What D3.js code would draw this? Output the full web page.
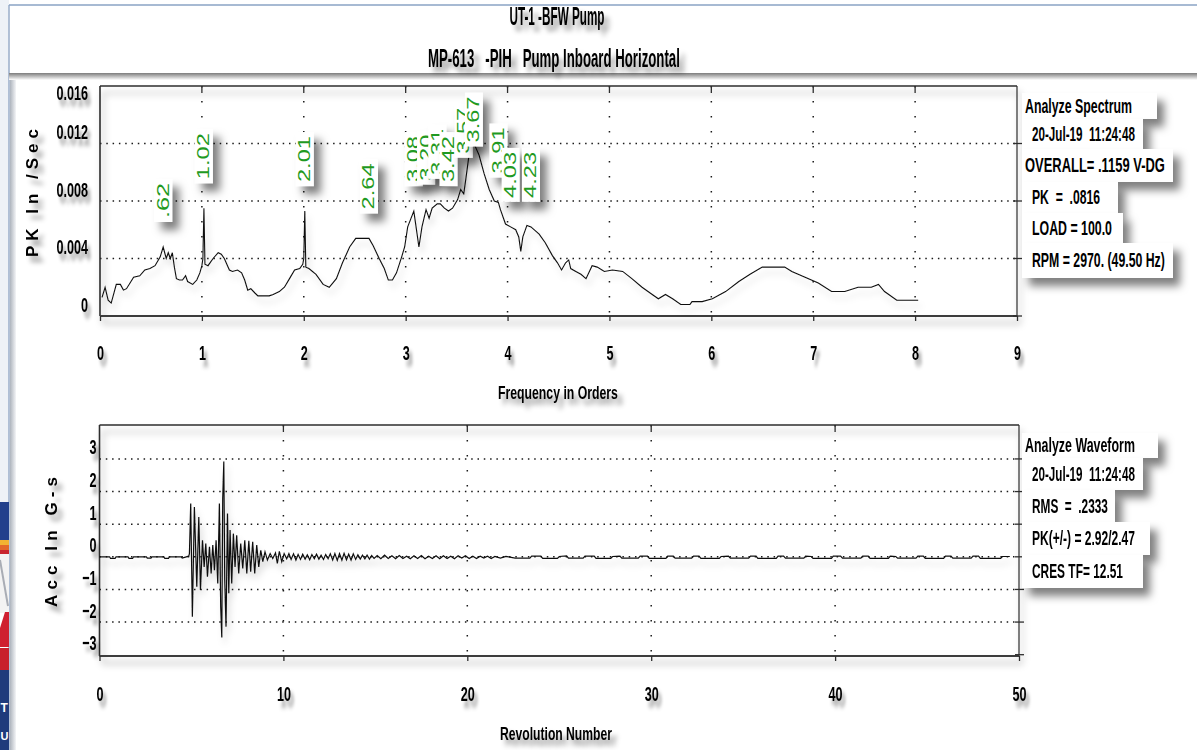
<!DOCTYPE html>
<html>
<head>
<meta charset="utf-8">
<script src="https://cdn.jsdelivr.net/npm/d3@7"></script>
<style>
  body { margin: 0; background: #fff; }
  svg { display: block; }
</style>
</head>
<body>
<svg id="chart" width="1197" height="750"></svg>
<script>
// ---------------- data ----------------
const titleLines = ["UT-1 -BFW Pump", "MP-613   -PIH   Pump Inboard Horizontal"];

// Spectrum: frequency in orders vs PK in/sec
const spectrumOrders = [
  0.02, 0.05, 0.08, 0.11, 0.16, 0.20, 0.23, 0.26, 0.33, 0.39, 0.44, 0.49, 0.54, 0.59, 0.62, 0.65,
  0.67, 0.69, 0.71, 0.73, 0.75, 0.78, 0.81, 0.84, 0.86, 0.91, 0.95, 0.98, 1.00, 1.01, 1.02, 1.03,
  1.06, 1.11, 1.16, 1.19, 1.22, 1.27, 1.30, 1.35, 1.39, 1.42, 1.45, 1.48, 1.52, 1.55, 1.66, 1.70,
  1.76, 1.81, 1.86, 1.91, 1.96, 1.99, 2.00, 2.01, 2.02, 2.05, 2.12, 2.19, 2.25, 2.32, 2.38, 2.45,
  2.51, 2.57, 2.64, 2.68, 2.74, 2.79, 2.83, 2.87, 2.91, 2.96, 2.99, 3.02, 3.08, 3.10, 3.13, 3.16,
  3.20, 3.23, 3.26, 3.31, 3.34, 3.38, 3.42, 3.46, 3.51, 3.54, 3.57, 3.59, 3.62, 3.64, 3.67, 3.72,
  3.77, 3.82, 3.87, 3.91, 3.93, 3.98, 4.03, 4.08, 4.11, 4.13, 4.15, 4.19, 4.23, 4.31, 4.37, 4.44,
  4.49, 4.53, 4.57, 4.60, 4.62, 4.67, 4.72, 4.77, 4.83, 4.88, 4.95, 5.03, 5.13, 5.22, 5.32, 5.42,
  5.48, 5.55, 5.62, 5.70, 5.79, 5.81, 5.91, 6.01, 6.14, 6.27, 6.38, 6.50, 6.72, 6.79, 6.92, 7.05,
  7.18, 7.31, 7.44, 7.57, 7.64, 7.70, 7.82, 8.03
];
const spectrumAmps = [
  0.0013, 0.0020, 0.0011, 0.0009, 0.0022, 0.0022, 0.0018, 0.0019, 0.0027, 0.0028, 0.0032, 0.0033, 0.0035, 0.0041, 0.0048, 0.0040,
  0.0044, 0.0040, 0.0044, 0.0034, 0.0026, 0.0025, 0.0025, 0.0028, 0.0024, 0.0022, 0.0025, 0.0030, 0.0035, 0.0040, 0.0075, 0.0036,
  0.0035, 0.0040, 0.0044, 0.0043, 0.0040, 0.0032, 0.0031, 0.0032, 0.0030, 0.0025, 0.0018, 0.0019, 0.0016, 0.0014, 0.0014, 0.0015,
  0.0017, 0.0020, 0.0026, 0.0032, 0.0033, 0.0036, 0.0040, 0.0073, 0.0034, 0.0033, 0.0029, 0.0022, 0.0020, 0.0026, 0.0037, 0.0048,
  0.0054, 0.0054, 0.0054, 0.0049, 0.0040, 0.0033, 0.0025, 0.0025, 0.0030, 0.0041, 0.0048, 0.0062, 0.0073, 0.0063, 0.0048, 0.0062,
  0.0074, 0.0068, 0.0075, 0.0078, 0.0078, 0.0075, 0.0073, 0.0075, 0.0081, 0.0088, 0.0085, 0.0095, 0.0111, 0.0119, 0.0120, 0.0112,
  0.0099, 0.0088, 0.0080, 0.0079, 0.0074, 0.0064, 0.0062, 0.0060, 0.0055, 0.0045, 0.0055, 0.0063, 0.0062, 0.0057, 0.0051, 0.0042,
  0.0037, 0.0032, 0.0037, 0.0039, 0.0033, 0.0031, 0.0029, 0.0026, 0.0035, 0.0034, 0.0031, 0.0032, 0.0031, 0.0026, 0.0020, 0.0015,
  0.0012, 0.0015, 0.0012, 0.0008, 0.0008, 0.0010, 0.0010, 0.0012, 0.0017, 0.0024, 0.0029, 0.0034, 0.0034, 0.0031, 0.0027, 0.0023,
  0.0017, 0.0017, 0.0020, 0.0020, 0.0022, 0.0017, 0.0011, 0.0011
];
const peakOrders = [0.62, 1.02, 2.01, 2.64, 3.08, 3.20, 3.31, 3.42, 3.57, 3.67, 3.91, 4.03, 4.23];
const spectrumTicksX = [0, 1, 2, 3, 4, 5, 6, 7, 8, 9];
const spectrumTicksY = [0, 0.004, 0.008, 0.012, 0.016];
const spectrumInfo = [
  "Analyze Spectrum", "20-Jul-19  11:24:48", "OVERALL= .1159 V-DG",
  "PK  =  .0816", "LOAD = 100.0", "RPM = 2970. (49.50 Hz)"
];

// Waveform: revolution number vs acceleration in G-s
const waveRevs = [
  0, 0.55, 0.60, 0.85, 0.90, 1.55, 1.60, 1.80, 1.85, 2.55, 2.60, 2.80, 2.85, 3.50, 3.55, 3.75, 3.80, 4.45, 4.50, 4.85,
  4.89, 4.96, 5.05, 5.16, 5.29, 5.40, 5.49, 5.60, 5.69, 5.78, 5.87, 5.98, 6.07, 6.16, 6.25, 6.34, 6.43, 6.52, 6.59, 6.65,
  6.70, 6.76, 6.81, 6.88, 6.96, 7.03, 7.10, 7.19, 7.28, 7.37, 7.46, 7.57, 7.68, 7.79, 7.90, 8.01, 8.12, 8.22, 8.33, 8.44,
  8.55, 8.66, 8.77, 8.88, 9.00, 9.13, 9.28, 9.42, 9.57, 9.67, 9.78, 9.91, 10.04, 10.18,
  10.30, 10.42, 10.55, 10.68, 10.80, 10.93, 11.05, 11.18, 11.30, 11.43, 11.55, 11.68, 11.80, 11.93, 12.05, 12.18,
  12.30, 12.43, 12.55, 12.68, 12.80, 12.93, 13.05, 13.18, 13.30, 13.43, 13.55, 13.68, 13.80, 13.93, 14.05, 14.18,
  14.30, 14.43, 14.55, 14.68, 14.80, 14.93, 15.10, 15.30, 15.50, 15.70, 15.90, 16.10, 16.30, 16.50, 16.70, 16.90,
  17.10, 17.30, 17.50, 17.70, 17.90, 18.10, 18.30, 18.50, 18.70, 18.90, 19.10, 19.30, 19.50, 19.70, 19.90, 20.10,
  20.30, 20.50, 20.70, 20.90, 21.10, 21.30, 21.50, 21.80, 22.10,
  22.60, 23.40, 23.50, 24.00, 24.10, 24.90, 25.00, 25.40, 25.50, 26.30, 26.40, 26.90, 27.00, 27.80, 27.90, 28.30,
  28.40, 29.30, 29.40, 29.80, 29.90, 30.80, 30.90, 31.20, 31.30, 32.20, 32.30, 32.60, 32.70, 33.70, 33.80, 34.20,
  34.30, 35.30, 35.40, 35.70, 35.80, 36.80, 36.90, 37.20, 37.30, 38.30, 38.40, 38.70, 38.80, 39.80, 39.90, 40.30,
  40.40, 41.40, 41.50, 41.80, 41.90, 42.90, 43.00, 43.30, 43.40, 44.40, 44.50, 44.80, 44.90, 45.90, 46.00, 46.30,
  46.40, 47.40, 47.50, 47.80, 47.90, 49.00, 49.10, 49.50
];
const waveAccel = [
  0, 0, -0.05, -0.05, 0, 0, -0.05, -0.05, 0, 0, -0.04, -0.04, 0, 0, -0.05, -0.05, 0, 0, -0.04, 0.02,
  0.10, 1.63, -1.84, 1.53, -0.92, 1.22, -1.02, 0.51, -0.31, 0.41, -0.61, 0.31, -0.51, 0.36, -0.41, 0.51, -0.82, 1.63, -1.53, -2.47,
  1.79, 2.92, -0.71, -2.14, 1.33, -1.12, 0.82, -0.82, 0.71, -0.31, 0.66, -0.51, 0.41, -0.36, 0.51, -0.51, 0.49, -0.46, 0.46, -0.51,
  0.36, -0.31, 0.20, -0.15, 0.15, -0.10, 0.10, -0.05, 0.12, -0.20, 0.17, -0.15, 0.10, -0.06,
  0.10, -0.08, 0.09, -0.10, 0.07, -0.08, 0.08, -0.07, 0.06, -0.09, 0.07, -0.06, 0.08, -0.07, 0.05, -0.08,
  0.07, -0.06, 0.09, -0.10, 0.10, -0.11, 0.10, -0.10, 0.11, -0.09, 0.08, -0.10, 0.09, -0.08, 0.06, -0.07,
  0.05, -0.06, 0.05, -0.07, 0.04, -0.05, 0.04, -0.06, 0.05, -0.05, 0.03, -0.06, 0.04, -0.05, 0.02, -0.06,
  0.03, -0.05, 0.04, -0.06, 0.02, -0.05, 0.03, -0.06, 0.03, -0.05, 0.02, -0.06, 0.03, -0.04, 0.03, -0.05,
  0.02, -0.05, 0.02, -0.04, 0.02, -0.05, 0.01, -0.04, 0.01,
  -0.04, -0.04, 0.02, 0.02, -0.05, -0.05, 0.01, 0.03, -0.04, -0.04, 0.02, 0.02, -0.05, -0.05, 0.01, 0.02,
  -0.04, -0.04, 0.02, 0.02, -0.05, -0.05, 0.02, 0.02, -0.04, -0.04, 0.02, 0.02, -0.05, -0.05, 0.01, 0.02,
  -0.04, -0.04, 0.02, 0.02, -0.05, -0.05, 0.02, 0.02, -0.04, -0.04, 0.02, 0.01, -0.05, -0.05, 0.02, 0.02,
  -0.04, -0.04, 0.02, 0.02, -0.05, -0.05, 0.02, 0.01, -0.04, -0.04, 0.02, 0.02, -0.05, -0.05, 0.02, 0.02,
  -0.04, -0.04, 0.02, 0.02, -0.05, -0.05, 0.01, 0.01
];
const waveTicksX = [0, 10, 20, 30, 40, 50];
const waveTicksY = [-3, -2, -1, 0, 1, 2, 3];
const waveformInfo = [
  "Analyze Waveform", "20-Jul-19  11:24:48", "RMS  =  .2333",
  "PK(+/-) = 2.92/2.47", "CRES TF= 12.51"
];

// ---------------- drawing ----------------
const W = 1197, H = 750;
const FONT = "'Liberation Sans', Arial, sans-serif";
const svg = d3.select("#chart");
const defs = svg.append("defs");

// drop shadows; region is generous so transformed text keeps its shadow
function addShadow(id, dx, dy, sd, op) {
  const f = defs.append("filter").attr("id", id)
    .attr("filterUnits", "userSpaceOnUse")
    .attr("x", -W).attr("y", -H).attr("width", 3 * W).attr("height", 3 * H);
  f.append("feDropShadow").attr("dx", dx).attr("dy", dy)
    .attr("stdDeviation", sd).attr("flood-color", "#000").attr("flood-opacity", op);
}
addShadow("shText", 5, 6, 2.6, 0.42);
addShadow("shBox", 7, 8, 4, 0.5);
addShadow("shLine", 3, 7, 3.5, 0.35);
addShadow("shCurve", 3, 6, 3, 0.18);

const gradShade = defs.append("linearGradient").attr("id", "panelShade")
  .attr("x1", 0).attr("y1", 0).attr("x2", 0).attr("y2", 1);
gradShade.append("stop").attr("offset", "0%").attr("stop-color", "#7c7c7c");
gradShade.append("stop").attr("offset", "100%").attr("stop-color", "#ffffff");
const gradSide = defs.append("linearGradient").attr("id", "sideShade")
  .attr("x1", 0).attr("y1", 0).attr("x2", 1).attr("y2", 0);
gradSide.append("stop").attr("offset", "0%").attr("stop-color", "#aeb4bd");
gradSide.append("stop").attr("offset", "100%").attr("stop-color", "#f4f5f7");

// squeeze a text horizontally to a given width, keeping its left edge in place
function fitWidth(t, w) {
  const nat = t.node().getComputedTextLength();
  const x = +t.attr("x");
  t.attr("transform", `translate(${x},0) scale(${w / nat},1) translate(${-x},0)`);
}

// window frame on the left edge
svg.append("rect").attr("x", 0).attr("y", 0).attr("width", 9).attr("height", 502).attr("fill", "#eef2f7");
svg.append("rect").attr("x", 10).attr("y", 75).attr("width", 6).attr("height", H - 75).attr("fill", "url(#sideShade)");
svg.append("line").attr("x1", 9).attr("x2", 9).attr("y1", 5).attr("y2", H)
  .attr("stroke", "#9fb2cc").attr("stroke-width", 1.6);

// partial company logo at the left edge
const logo = svg.append("g");
[[502, 38, "#22408c"], [540, 5, "#f2b233"], [545, 5, "#e3672b"], [550, 4, "#c9252f"],
 [554, 59, "#f3f3f3"], [648, 22, "#c8202c"], [670, 80, "#1f3b7c"]].forEach(([y, h, c]) => {
  logo.append("rect").attr("x", 0).attr("y", y).attr("width", 9).attr("height", h).attr("fill", c);
});
logo.append("line").attr("x1", 0).attr("y1", 560).attr("x2", 8).attr("y2", 606)
  .attr("stroke", "#a9adb5").attr("stroke-width", 2);
logo.append("polygon").attr("points", "5,612 9,612 9,647 0,647 0,628").attr("fill", "#cf2030");
logo.append("text").attr("x", 0.5).attr("y", 712).text("T")
  .attr("font-family", FONT).attr("font-weight", "bold").attr("font-size", 12).attr("fill", "#fff");
logo.append("text").attr("x", 0.5).attr("y", 740).text("U")
  .attr("font-family", FONT).attr("font-weight", "bold").attr("font-size", 11).attr("fill", "#fff");

// title panel
svg.append("rect").attr("x", 9).attr("y", 73).attr("width", W - 9).attr("height", 7).attr("fill", "url(#panelShade)");
svg.append("line").attr("x1", 9).attr("x2", W).attr("y1", 5).attr("y2", 5)
  .attr("stroke", "#8aa3c4").attr("stroke-width", 1.6);

const titleG = svg.append("g").attr("filter", "url(#shText)")
  .attr("font-family", FONT).attr("font-weight", "bold").attr("fill", "#000");
const titleLayout = [{ cx: 557, y: 25, w: 95, fs: 25 }, { cx: 554, y: 67, w: 252, fs: 25 }];
titleLines.forEach((t, i) => {
  const L = titleLayout[i];
  const tx = titleG.append("text").attr("x", L.cx - L.w / 2).attr("y", L.y)
    .attr("font-size", L.fs).style("white-space", "pre").text(t);
  fitWidth(tx, L.w);
});

// shared helpers
function condense(sel, sx) {
  sel.each(function () {
    const t = d3.select(this);
    const x = +t.attr("x") || 0;
    t.attr("x", x / sx).attr("transform", `scale(${sx},1)`);
  });
}
function dotted(g, x1, y1, x2, y2, dash) {
  g.append("line").attr("x1", x1).attr("y1", y1).attr("x2", x2).attr("y2", y2)
    .attr("stroke", "#1a1a1a").attr("stroke-width", 1.5).attr("stroke-dasharray", dash);
}
function frame(xs, ys) {
  const [xa, xb] = xs.range();
  const [yb, ya] = ys.range();
  const f = svg.append("g").attr("filter", "url(#shLine)").attr("stroke", "#2e2e2e");
  f.append("line").attr("x1", xa).attr("x2", xb).attr("y1", ya).attr("y2", ya).attr("stroke-width", 1.6);
  f.append("line").attr("x1", xb).attr("x2", xb).attr("y1", ya).attr("y2", yb).attr("stroke-width", 1.2);
  f.append("line").attr("x1", xa).attr("x2", xa).attr("y1", ya).attr("y2", yb).attr("stroke-width", 1.6);
  f.append("line").attr("x1", xa).attr("x2", xb).attr("y1", yb).attr("y2", yb).attr("stroke-width", 2.2).attr("stroke", "#3c3c3c");
  return f;
}
function axisTextStyle(g) {
  g.selectAll("text").attr("font-family", FONT).attr("font-weight", "bold")
    .attr("font-size", 21).attr("fill", "#000");
}
function infoBoxes(lines, layout) {
  const g = svg.append("g");
  lines.forEach((t, i) => {
    const L = layout[i];
    g.append("rect").attr("x", 1022).attr("y", L[0]).attr("width", L[2]).attr("height", L[1])
      .attr("fill", "#fff").attr("filter", "url(#shBox)");
  });
  lines.forEach((t, i) => {
    const L = layout[i];
    const tx = g.append("text").attr("x", L[3]).attr("y", L[0] + L[1] / 2 + 7)
      .attr("font-family", FONT).attr("font-weight", "bold").attr("font-size", 21)
      .style("white-space", "pre").attr("fill", "#000").text(t);
    fitWidth(tx, L[4]);
  });
}

// ---------------- spectrum ----------------
const xS = d3.scaleLinear().domain([0, 9]).range([100, 1017]);
const yS = d3.scaleLinear().domain([0, 0.016]).range([316, 86]);

const gridS = svg.append("g");
spectrumTicksY.filter(v => v > 0 && v < 0.016).forEach(v =>
  dotted(gridS, xS(0), yS(v), xS(9), yS(v), "1.5 4.8"));
spectrumTicksX.filter(v => v > 0 && v < 9).forEach(v =>
  dotted(gridS, xS(v), yS(0.016), xS(v), yS(0), "1.5 13.5"));

frame(xS, yS);
const tickS = svg.append("g").attr("stroke", "#2e2e2e").attr("stroke-width", 1.3);
spectrumTicksX.filter(v => v > 0 && v < 9).forEach(v =>
  tickS.append("line").attr("x1", xS(v)).attr("x2", xS(v)).attr("y1", yS(0.016)).attr("y2", yS(0.016) + 7));
spectrumTicksY.filter(v => v < 0.016).forEach(v =>
  tickS.append("line").attr("x1", xS(9) - 4).attr("x2", xS(9) + 5).attr("y1", yS(v)).attr("y2", yS(v)));

const axS = svg.append("g").attr("transform", `translate(0,${yS(0)})`)
  .call(d3.axisBottom(xS).tickValues(spectrumTicksX).tickSize(5).tickSizeOuter(0).tickFormat(d3.format("d")));
axS.select(".domain").remove();
axS.selectAll(".tick line").attr("stroke", "#2e2e2e").attr("stroke-width", 1.3);
axisTextStyle(axS);
axS.selectAll("text").attr("y", 44).attr("dy", 0).attr("filter", "url(#shText)");
condense(axS.selectAll("text"), 0.6);

const ayS = svg.append("g").attr("transform", `translate(${xS(0)},0)`)
  .call(d3.axisLeft(yS).tickValues(spectrumTicksY).tickSize(0)
    .tickFormat(d => d === 0 ? "0" : d3.format(".3f")(d)));
ayS.select(".domain").remove();
axisTextStyle(ayS);
ayS.selectAll("text").attr("x", -12).attr("dy", 0)
  .attr("y", d => Math.max(yS(d) - 5, 99) - yS(d)).attr("filter", "url(#shText)");
condense(ayS.selectAll("text"), 0.6);

// spectrum trace
const specPts = spectrumOrders.map((o, i) => [o, spectrumAmps[i]]);
svg.append("path").datum(specPts)
  .attr("d", d3.line().x(d => xS(d[0])).y(d => yS(d[1])))
  .attr("fill", "none").attr("stroke", "#111").attr("stroke-width", 1.1)
  .attr("filter", "url(#shCurve)");

// peak labels (text reads upward from just above the peak)
const labelGap = { 3.57: 40, 3.67: 1 };
const peakG = svg.append("g");
peakOrders.forEach(o => {
  const pt = specPts.reduce((a, b) => Math.abs(b[0] - o) < Math.abs(a[0] - o) ? b : a);
  const txt = o < 1 ? d3.format(".2f")(o).replace(/^0/, "") : d3.format(".2f")(o);
  const len = txt.length >= 4 ? 46 : 35;
  const gap = labelGap[o] !== undefined ? labelGap[o] : 29;
  const cx = xS(o), base = yS(pt[1]) - gap;
  peakG.append("rect").attr("x", cx - 9).attr("y", base - len - 4)
    .attr("width", 18).attr("height", len + 8).attr("fill", "#fff").attr("filter", "url(#shBox)");
  peakG.append("text").attr("transform", `translate(${cx},${base}) rotate(-90)`)
    .attr("dominant-baseline", "central").attr("font-family", FONT).attr("font-size", 16)
    .attr("textLength", len).attr("lengthAdjust", "spacingAndGlyphs")
    .attr("fill", "#1f9a22").text(txt);
});

// axis titles
const labG = svg.append("g").attr("filter", "url(#shText)")
  .attr("font-family", FONT).attr("font-weight", "bold").attr("fill", "#000");
fitWidth(labG.append("text").attr("x", 498).attr("y", 399).attr("font-size", 19)
  .text("Frequency in Orders"), 120);
labG.append("text").attr("transform", "translate(38,193) rotate(-90)")
  .attr("x", -64).attr("font-size", 17).attr("textLength", 128).attr("lengthAdjust", "spacing")
  .text("PK In /Sec");

infoBoxes(spectrumInfo, [
  [93, 26, 135, 1025, 107], [119, 30, 121, 1032, 103], [149, 33, 151, 1025, 140],
  [182, 31, 96, 1032, 68], [213, 30, 101, 1032, 80], [243, 35, 151, 1032, 133]
]);

// ---------------- waveform ----------------
const xW = d3.scaleLinear().domain([0, 50]).range([99.5, 1019]);
const yW = d3.scaleLinear().domain([-3.04, 4.04]).range([656, 425]);

const gridW = svg.append("g");
waveTicksY.filter(v => v > -3).forEach(v =>
  dotted(gridW, xW(0), yW(v), xW(50), yW(v), "1.5 4.8"));
waveTicksX.filter(v => v > 0 && v < 50).forEach(v =>
  dotted(gridW, xW(v), yW(4.04), xW(v), yW(-3.04), "1.5 13.5"));

frame(xW, yW);
const tickW = svg.append("g").attr("stroke", "#2e2e2e").attr("stroke-width", 1.3);
waveTicksX.filter(v => v > 0 && v < 50).forEach(v =>
  tickW.append("line").attr("x1", xW(v)).attr("x2", xW(v)).attr("y1", yW(4.04)).attr("y2", yW(4.04) + 7));
waveTicksY.forEach(v =>
  tickW.append("line").attr("x1", xW(50) - 4).attr("x2", xW(50) + 5).attr("y1", yW(v)).attr("y2", yW(v)));

const axW = svg.append("g").attr("transform", `translate(0,${yW(-3.04)})`)
  .call(d3.axisBottom(xW).tickValues(waveTicksX).tickSize(5).tickSizeOuter(0).tickFormat(d3.format("d")));
axW.select(".domain").remove();
axW.selectAll(".tick line").attr("stroke", "#2e2e2e").attr("stroke-width", 1.3);
axisTextStyle(axW);
axW.selectAll("text").attr("y", 45).attr("dy", 0).attr("filter", "url(#shText)");
condense(axW.selectAll("text"), 0.6);

const ayW = svg.append("g").attr("transform", `translate(${xW(0)},0)`)
  .call(d3.axisLeft(yW).tickValues(waveTicksY).tickSize(0).tickFormat(d3.format("d")));
ayW.select(".domain").remove();
axisTextStyle(ayW);
ayW.selectAll("text").attr("x", -3).attr("dy", 0).attr("y", -5).attr("filter", "url(#shText)");
condense(ayW.selectAll("text"), 0.6);

const wavePts = waveRevs.map((r, i) => [r, waveAccel[i]]);
svg.append("path").datum(wavePts)
  .attr("d", d3.line().x(d => xW(d[0])).y(d => yW(d[1])))
  .attr("fill", "none").attr("stroke", "#111").attr("stroke-width", 1.2)
  .attr("filter", "url(#shCurve)");

fitWidth(labG.append("text").attr("x", 500).attr("y", 740).attr("font-size", 19)
  .text("Revolution Number"), 112);
labG.append("text").attr("transform", "translate(57,542) rotate(-90)")
  .attr("x", -65).attr("font-size", 17).attr("textLength", 130).attr("lengthAdjust", "spacing")
  .text("Acc In G-s");

infoBoxes(waveformInfo, [
  [433, 25, 136, 1025, 110], [458, 32, 121, 1032, 103], [490, 32, 93, 1032, 76],
  [522, 33, 128, 1032, 103], [555, 33, 121, 1032, 91]
]);
</script>
</body>
</html>
